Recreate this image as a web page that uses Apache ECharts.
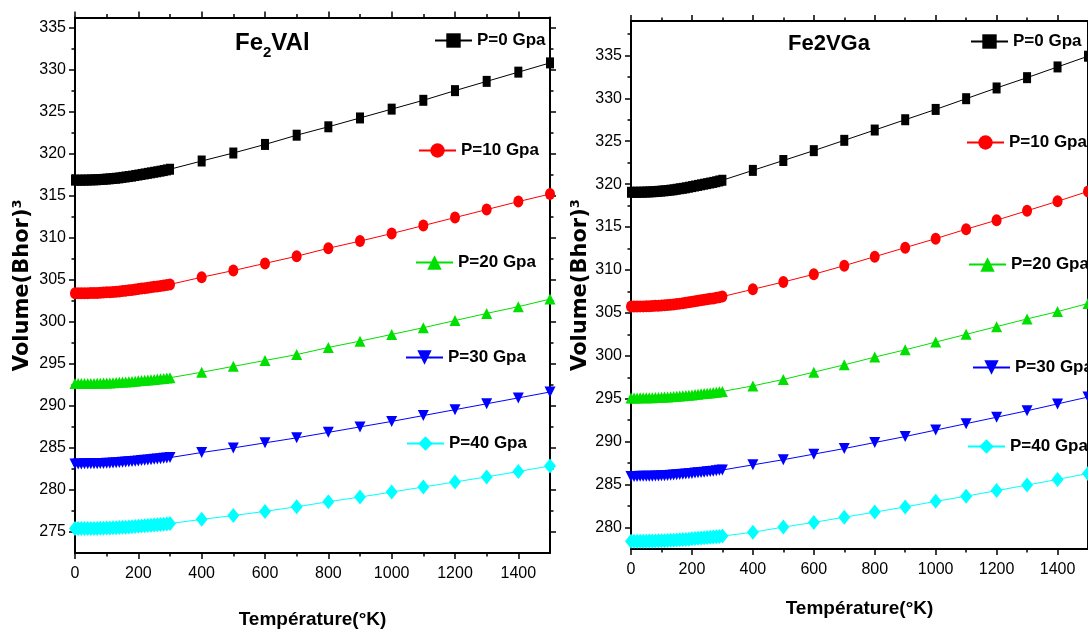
<!DOCTYPE html>
<html>
<head>
<meta charset="utf-8">
<script src="https://cdn.jsdelivr.net/npm/echarts@6/dist/echarts.min.js"></script>
<style>
  html, body { margin: 0; padding: 0; background: #fff; }
  #chart { width: 1088px; height: 635px; }
</style>
</head>
<body>
<div id="chart"></div>
<script>
// temperature grid (K): dense 0-300, then every 100 K
const temps = [0, 10, 20, 30, 40, 50, 60, 70, 80, 90, 100, 110, 120, 130, 140, 150,
  160, 170, 180, 190, 200, 210, 220, 230, 240, 250, 260, 270, 280, 290, 300,
  400, 500, 600, 700, 800, 900, 1000, 1100, 1200, 1300, 1400, 1500];

const pressureNames = ['P=0 Gpa', 'P=10 Gpa', 'P=20 Gpa', 'P=30 Gpa', 'P=40 Gpa'];

// Fe2VAl volumes (Bohr^3)
const alP0 = [316.85, 316.85, 316.85, 316.86, 316.86, 316.88, 316.89, 316.90, 316.93, 316.95, 316.98,
  317.01, 317.05, 317.08, 317.12, 317.18, 317.23, 317.28, 317.33, 317.40, 317.46, 317.53, 317.59,
  317.66, 317.72, 317.79, 317.85, 317.92, 317.99, 318.07, 318.15,
  319.13, 320.08, 321.1, 322.2, 323.2, 324.25, 325.3, 326.35, 327.5, 328.6, 329.7, 330.8];
const alP10 = [303.40, 303.40, 303.40, 303.41, 303.41, 303.42, 303.43, 303.44, 303.46, 303.48, 303.51,
  303.53, 303.56, 303.59, 303.62, 303.66, 303.70, 303.75, 303.79, 303.84, 303.89, 303.95, 304.00,
  304.05, 304.10, 304.16, 304.21, 304.26, 304.32, 304.39, 304.45,
  305.3, 306.1, 306.95, 307.8, 308.75, 309.6, 310.5, 311.45, 312.4, 313.35, 314.3, 315.2];
const alP20 = [292.65, 292.65, 292.65, 292.66, 292.66, 292.66, 292.67, 292.68, 292.69, 292.71, 292.72,
  292.73, 292.76, 292.78, 292.80, 292.83, 292.85, 292.88, 292.91, 292.94, 292.98, 293.01, 293.05,
  293.08, 293.12, 293.15, 293.19, 293.22, 293.27, 293.31, 293.35,
  294.0, 294.7, 295.4, 296.1, 296.95, 297.7, 298.5, 299.3, 300.15, 301.0, 301.8, 302.7];
const alP30 = [283.10, 283.10, 283.10, 283.11, 283.11, 283.12, 283.12, 283.13, 283.15, 283.16, 283.18,
  283.19, 283.21, 283.24, 283.26, 283.29, 283.32, 283.35, 283.38, 283.42, 283.45, 283.49, 283.53,
  283.57, 283.60, 283.64, 283.68, 283.72, 283.76, 283.81, 283.85,
  284.45, 285.0, 285.6, 286.2, 286.85, 287.5, 288.15, 288.85, 289.55, 290.25, 290.95, 291.65];
const alP40 = [275.40, 275.40, 275.40, 275.41, 275.41, 275.41, 275.42, 275.42, 275.44, 275.45, 275.46,
  275.47, 275.49, 275.51, 275.53, 275.55, 275.57, 275.60, 275.62, 275.65, 275.68, 275.71, 275.74,
  275.77, 275.80, 275.83, 275.86, 275.89, 275.93, 275.96, 276.00,
  276.5, 276.95, 277.45, 278.0, 278.6, 279.15, 279.75, 280.35, 280.95, 281.55, 282.2, 282.85];

// Fe2VGa volumes (Bohr^3)
const gaP0 = [319.05, 319.05, 319.05, 319.06, 319.06, 319.08, 319.09, 319.11, 319.13, 319.16, 319.19,
  319.22, 319.26, 319.30, 319.34, 319.40, 319.46, 319.51, 319.57, 319.64, 319.71, 319.78, 319.85,
  319.92, 319.99, 320.06, 320.13, 320.20, 320.28, 320.37, 320.45,
  321.6, 322.75, 323.9, 325.1, 326.3, 327.5, 328.7, 329.95, 331.2, 332.4, 333.65, 334.9];
const gaP10 = [305.75, 305.75, 305.75, 305.76, 305.76, 305.77, 305.78, 305.80, 305.82, 305.84, 305.87,
  305.89, 305.92, 305.96, 305.99, 306.04, 306.08, 306.13, 306.18, 306.23, 306.29, 306.35, 306.41,
  306.46, 306.52, 306.58, 306.64, 306.69, 306.76, 306.83, 306.90,
  307.75, 308.6, 309.5, 310.5, 311.55, 312.6, 313.65, 314.75, 315.8, 316.9, 318.0, 319.15];
const gaP20 = [295.10, 295.10, 295.10, 295.11, 295.11, 295.12, 295.12, 295.13, 295.15, 295.16, 295.18,
  295.19, 295.21, 295.24, 295.26, 295.29, 295.32, 295.35, 295.38, 295.42, 295.45, 295.49, 295.53,
  295.57, 295.60, 295.64, 295.68, 295.72, 295.76, 295.81, 295.85,
  296.5, 297.25, 298.1, 298.95, 299.85, 300.7, 301.6, 302.5, 303.4, 304.3, 305.15, 306.1];
const gaP30 = [285.95, 285.95, 285.95, 285.96, 285.96, 285.97, 285.97, 285.98, 286.00, 286.01, 286.03,
  286.04, 286.06, 286.09, 286.11, 286.14, 286.17, 286.20, 286.23, 286.27, 286.30, 286.34, 286.38,
  286.42, 286.45, 286.49, 286.53, 286.57, 286.61, 286.66, 286.70,
  287.3, 287.9, 288.55, 289.2, 289.9, 290.6, 291.35, 292.1, 292.85, 293.6, 294.4, 295.2];
const gaP40 = [278.40, 278.40, 278.40, 278.41, 278.41, 278.41, 278.42, 278.42, 278.44, 278.45, 278.46,
  278.47, 278.49, 278.51, 278.53, 278.55, 278.57, 278.60, 278.62, 278.65, 278.68, 278.71, 278.74,
  278.77, 278.80, 278.83, 278.86, 278.89, 278.93, 278.96, 279.00,
  279.45, 280.05, 280.6, 281.2, 281.8, 282.4, 283.05, 283.65, 284.3, 284.95, 285.6, 286.3];

// tick values
const xMajor = [0, 200, 400, 600, 800, 1000, 1200, 1400];
const xMinor = [100, 300, 500, 700, 900, 1100, 1300];
const yMajorAl = [275, 280, 285, 290, 295, 300, 305, 310, 315, 320, 325, 330, 335];
const yMinorAl = [277.5, 282.5, 287.5, 292.5, 297.5, 302.5, 307.5, 312.5, 317.5, 322.5, 327.5, 332.5];
const yMajorGa = [280, 285, 290, 295, 300, 305, 310, 315, 320, 325, 330, 335];
const yMinorGa = [282.5, 287.5, 292.5, 297.5, 302.5, 307.5, 312.5, 317.5, 322.5, 327.5, 332.5, 337.5];

const SANS = "'Liberation Sans', Arial, sans-serif";
const WIDE = "'DejaVu Sans', sans-serif";

const looks = [
  { color: '#000000', symbol: 'rect', size: [8, 11], rotate: 0 },
  { color: '#ff0000', symbol: 'circle', size: [10, 12], rotate: 0 },
  { color: '#00e000', symbol: 'triangle', size: [11, 11], rotate: 0 },
  { color: '#0000ff', symbol: 'triangle', size: [11, 11], rotate: 180 },
  { color: '#00ffff', symbol: 'diamond', size: [12, 15], rotate: 0 }
];

// major axis (line + labels) and a minor-tick overlay, on both sides of the frame
function frameAxes(dim, gridIndex, min, max, major, minor, nameCfg) {
  const sides = dim === 'x' ? ['bottom', 'top'] : ['left', 'right'];
  const out = [];
  sides.forEach((pos, k) => {
    out.push(Object.assign({
      type: 'value', gridIndex, position: pos, min, max,
      axisLine: { show: true, onZero: false, lineStyle: { color: '#000', width: 2 } },
      axisTick: { show: true, customValues: major, length: 6, lineStyle: { color: '#000', width: 1.5 } },
      axisLabel: k === 0 ? {
        show: true, customValues: major, fontSize: 16, fontFamily: SANS, color: '#000',
        margin: dim === 'x' ? 13 : 9, formatter: v => String(v)
      } : { show: false },
      splitLine: { show: false }
    }, k === 0 ? nameCfg : {}));
    out.push({
      type: 'value', gridIndex, position: pos, min, max,
      axisLine: { show: false, onZero: false },
      axisTick: { show: true, customValues: minor, length: 3.5, lineStyle: { color: '#000', width: 1.5 } },
      axisLabel: { show: false },
      splitLine: { show: false }
    });
  });
  return out;
}

function xName(gap) {
  return {
    name: 'Température(°K)', nameLocation: 'middle', nameGap: gap,
    nameTextStyle: { fontFamily: SANS, fontWeight: 'bold', fontSize: 19, color: '#000' }
  };
}
function yName(gap) {
  return {
    name: 'Volume(Bhor)³', nameLocation: 'middle', nameGap: gap,
    nameTextStyle: { fontFamily: WIDE, fontWeight: 'bold', fontSize: 21, color: '#000' }
  };
}

const xAxis = [].concat(
  frameAxes('x', 0, 0, 1500, xMajor, xMinor, xName(57)),
  frameAxes('x', 1, 0, 1500, xMajor, xMinor, xName(50))
);
const yAxis = [].concat(
  frameAxes('y', 0, 272.5, 336.2, yMajorAl, yMinorAl, yName(42)),
  frameAxes('y', 1, 277.5, 339, yMajorGa, yMinorGa, yName(40))
);

const sets = [[alP0, alP10, alP20, alP30, alP40], [gaP0, gaP10, gaP20, gaP30, gaP40]];
const series = [];
sets.forEach((arrs, c) => {
  arrs.forEach((vals, p) => {
    const lk = looks[p];
    series.push({
      type: 'line', name: pressureNames[p],
      xAxisIndex: c * 4, yAxisIndex: c * 4,
      data: temps.map((t, i) => [t, vals[i]]),
      symbol: lk.symbol, symbolSize: lk.size, symbolRotate: lk.rotate,
      showAllSymbol: true,
      lineStyle: { color: lk.color, width: 1 },
      itemStyle: { color: lk.color },
      emphasis: { disabled: true }
    });
  });
});

// legend items sit next to the curves: [x of line start, y centre]
const legendPos = [
  [[434, 41], [418, 151], [415, 263], [405, 358], [406, 444]],
  [[970, 42], [966, 143], [968, 265], [972, 368], [967, 447]]
];
const legend = [];
legendPos.forEach(chart => chart.forEach((pt, p) => {
  legend.push({
    data: [pressureNames[p]], left: pt[0], top: pt[1] - 9,
    padding: 0, itemWidth: 37, itemHeight: 18, itemGap: 0, selectedMode: false,
    textStyle: { fontFamily: SANS, fontWeight: 'bold', fontSize: 17, color: '#000' }
  });
}));

const option = {
  backgroundColor: '#fff',
  animation: false,
  title: [
    {
      text: '{a|Fe}{s|2}{a|VAl}', left: 235, top: 31, padding: 0,
      textStyle: {
        rich: {
          a: { fontFamily: SANS, fontWeight: 'bold', fontSize: 24, color: '#000', verticalAlign: 'top' },
          s: { fontFamily: SANS, fontWeight: 'bold', fontSize: 15, color: '#000', verticalAlign: 'top', padding: [14, 0, 0, 0] }
        }
      }
    },
    {
      text: 'Fe2VGa', left: 788, top: 33, padding: 0,
      textStyle: { fontFamily: SANS, fontWeight: 'bold', fontSize: 22, color: '#000' }
    }
  ],
  legend,
  grid: [
    { left: 75, top: 17.5, width: 475, height: 535.5 },
    { left: 631, top: 21, width: 462.5, height: 528 }
  ],
  xAxis, yAxis, series
};

const chart = echarts.init(document.getElementById('chart'), null, { renderer: 'canvas' });
chart.setOption(option);
</script>
</body>
</html>
